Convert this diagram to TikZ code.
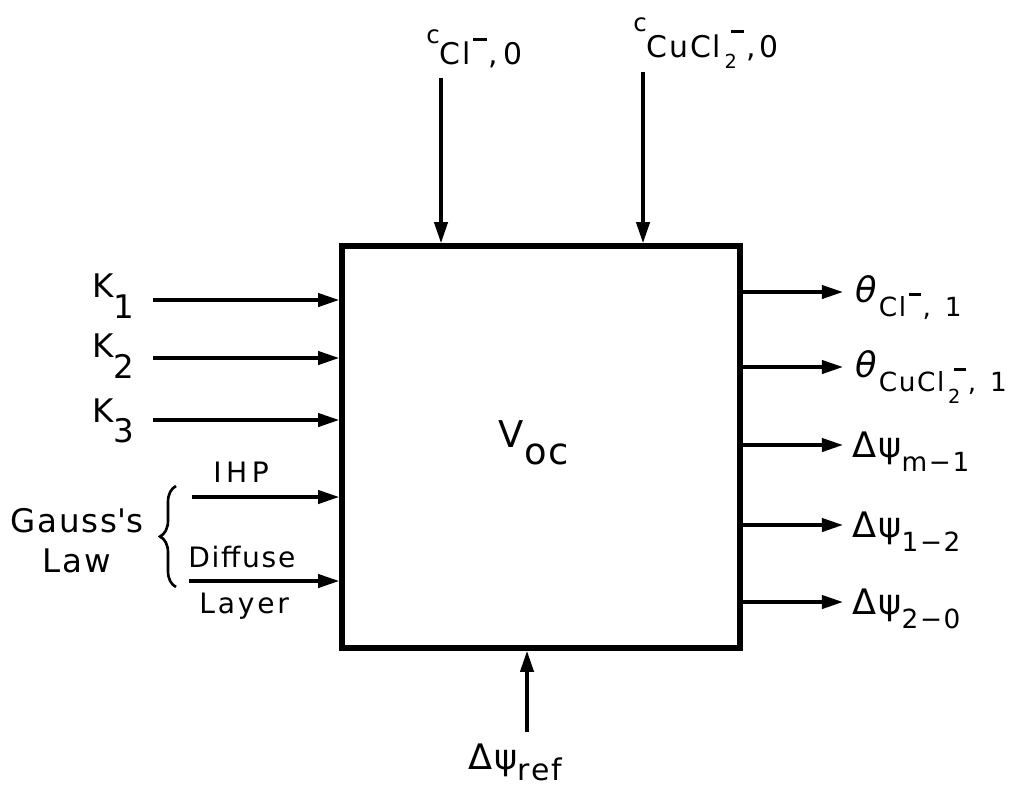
\documentclass[tikz,border=0pt]{standalone}
\usepackage{fontspec}
\setmainfont[LetterSpace=6]{DejaVu Sans}
\usetikzlibrary{arrows.meta, positioning, decorations.pathreplacing}

\newcommand{\sbfont}{\fontsize{15}{16}\selectfont}
\newcommand{\minusbar}{\kern1.5pt\raisebox{0.8em}{\rule{0.45em}{0.1em}}\kern1pt}
\newcommand{\twosub}{\raisebox{-6.5pt}{\fontsize{11}{11}\selectfont 2}\kern-5pt}

\begin{document}
\begin{tikzpicture}[x=0.02cm, y=-0.02cm,
    lbl/.style={inner sep=0pt, anchor=base west, font=\fontsize{16}{19}\selectfont},
    big/.style={font=\fontsize{20}{22}\selectfont},
    arr/.style={-{Triangle[length=12pt, width=7.5pt]}, line width=2pt},
    blk/.style={draw, line width=3.2pt, minimum width=7.96cm, minimum height=8.04cm, inner sep=0pt}
  ]
    \useasboundingbox (0,0) rectangle (1024,792);
    \node[blk] (sys) at (541,447) {};
    \node[inner sep=0pt, font=\fontsize{21}{21}\selectfont] (voc) at (534,443) {V\raisebox{-9.7pt}{oc}};

    \coordinate (k1s) at (153,300);
    \coordinate (k2s) at (153,358);
    \coordinate (k3s) at (153,420);
    \coordinate (ihps) at (192,497);
    \coordinate (difs) at (189,581);
    \node[lbl, font=\fontsize{18.5}{20}\selectfont] (k1) at (92,297) {K\raisebox{-12pt}{1}};
    \node[lbl, font=\fontsize{18.5}{20}\selectfont] (k2) at (92,357) {K\raisebox{-12pt}{2}};
    \node[lbl, font=\fontsize{18.5}{20}\selectfont] (k3) at (92,422) {K\raisebox{-11.5pt}{3}};
    \node[lbl] (ihp) at (213,482) {\addfontfeature{LetterSpace=16}IHP};
    \node[lbl] (diff) at (188,567) {Diffuse};
    \node[lbl] (layer) at (199,613) {\addfontfeature{LetterSpace=10}Layer};
    \node[lbl, anchor=base, font=\fontsize{18.5}{20}\selectfont] (gauss) at (77,532) {Gauss\textquotesingle s};
    \node[lbl, anchor=base, font=\fontsize{18.5}{20}\selectfont] (law) at (77,572) {Law};
    \coordinate (br1) at (176,587);
    \coordinate (br2) at (176,486);
    \draw[line width=1.5pt, decorate, decoration={brace, amplitude=0.32cm}] (br1) -- (br2);

    \draw[arr] (k1s) -- (k1s -| sys.west);
    \draw[arr] (k2s) -- (k2s -| sys.west);
    \draw[arr] (k3s) -- (k3s -| sys.west);
    \draw[arr] (ihps) -- (ihps -| sys.west);
    \draw[arr] (difs) -- (difs -| sys.west);

    \coordinate (t1) at (441,78);
    \coordinate (t2) at (643,72);
    \node[lbl, font=\fontsize{14}{15}\selectfont] (ccl) at (426,43)
      {c\raisebox{-12.5pt}{\fontsize{17}{18}\selectfont Cl\minusbar,\kern3pt0}};
    \node[lbl, font=\fontsize{14}{15}\selectfont] (ccu) at (633,31)
      {c\raisebox{-14.8pt}{\fontsize{17}{18}\selectfont CuCl\kern2pt\twosub\minusbar,\kern2pt0}};
    \draw[arr] (t1) -- (t1 |- sys.north);
    \draw[arr] (t2) -- (t2 |- sys.north);

    \coordinate (r1) at (843,292);
    \coordinate (r2) at (843,367);
    \coordinate (r3) at (843,445);
    \coordinate (r4) at (843,525);
    \coordinate (r5) at (843,602);
    \draw[arr] (r1 -| sys.east) -- (r1);
    \draw[arr] (r2 -| sys.east) -- (r2);
    \draw[arr] (r3 -| sys.east) -- (r3);
    \draw[arr] (r4 -| sys.east) -- (r4);
    \draw[arr] (r5 -| sys.east) -- (r5);
    \node[lbl, big] (thcl) at (855,302) {\textit{θ}\raisebox{-8.5pt}{\sbfont Cl\minusbar,\hspace{8pt}1}};
    \node[lbl, big] (thcu) at (855,377) {\textit{θ}\raisebox{-8.5pt}{\sbfont CuCl\kern2pt\twosub\minusbar,\hspace{8pt}1}};
    \node[lbl, big] (psm) at (852,457) {Δψ\raisebox{-8.5pt}{\sbfont m−1}};
    \node[lbl, big] (ps12) at (852,537) {Δψ\raisebox{-8.5pt}{\sbfont 1−2}};
    \node[lbl, big] (ps20) at (852,614) {Δψ\raisebox{-8.5pt}{\sbfont 2−0}};

    \coordinate (b1) at (527,732);
    \draw[arr] (b1) -- (b1 |- sys.south);
    \node[lbl, big] (psref) at (468,769) {Δψ\raisebox{-6.5pt}{\fontsize{17}{18}\selectfont ref}};
\end{tikzpicture}
\end{document}
